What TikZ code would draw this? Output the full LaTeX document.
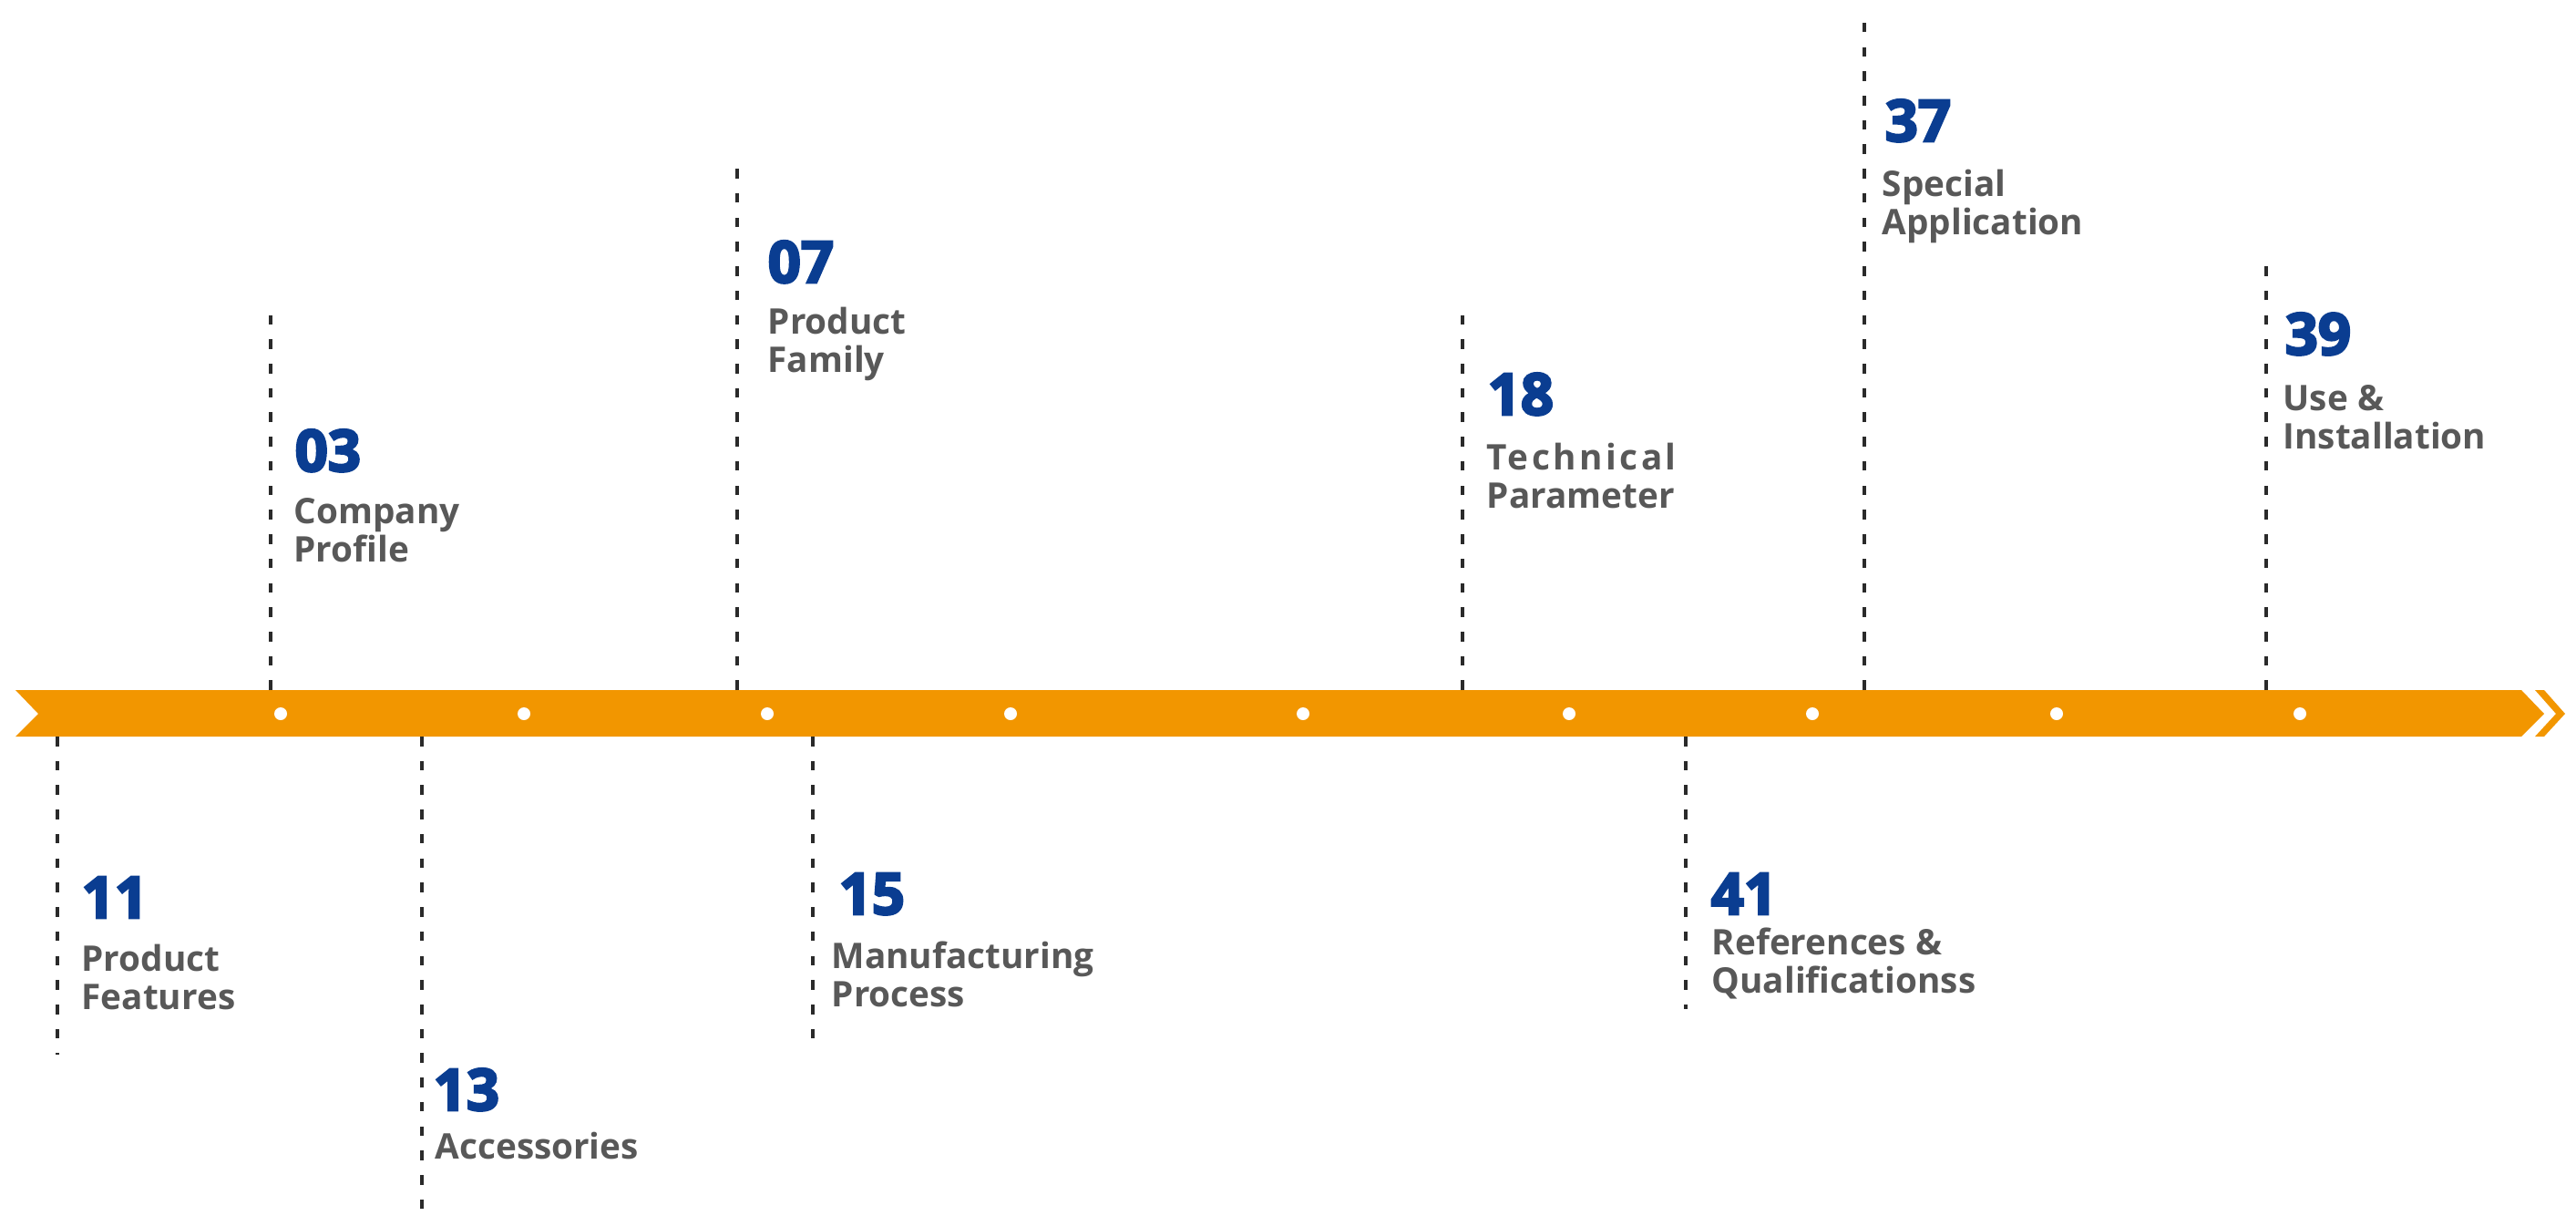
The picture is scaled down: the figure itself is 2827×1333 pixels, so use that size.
\documentclass[tikz,border=0pt]{standalone}
\usepackage{fontspec}
\setmainfont{Open Sans}
\newfontfamily\numfont{Open Sans}[BoldFeatures={FakeBold=4}]
\definecolor{bandorange}{HTML}{F29600}
\definecolor{numblue}{HTML}{0A3D91}
\definecolor{txtgrey}{HTML}{585858}
\definecolor{dashgrey}{HTML}{2A2A2A}
\tikzset{
  num/.style={inner sep=0pt, anchor=base west, text=numblue, font=\numfont\bfseries\fontsize{18}{20}\selectfont},
  lbl/.style={inner sep=0pt, anchor=base west, align=left, text=txtgrey, font=\bfseries\fontsize{11}{11.8}\selectfont},
  guide/.style={draw=dashgrey, line width=1pt, dash pattern=on 3pt off 4.6pt},
  dot/.style={circle, fill=white, inner sep=0pt, minimum size=0.14cm}
}
\begin{document}
\begin{tikzpicture}[x=0.01cm, y=-0.01cm]
\useasboundingbox (0,0) rectangle (2827,1333);
% band
\fill[bandorange] (17,757) -- (2767,757) -- (2792,783) -- (2767,808) -- (17,808) -- (42,783) -- cycle;
\fill[bandorange] (2782,757) -- (2792,757) -- (2815,783) -- (2792,808) -- (2782,808) -- (2805,783) -- cycle;
% dots
\foreach \x/\n in {308/1,575/2,842/3,1109/4,1430/5,1722/6,1989/7,2257/8,2524/9}
  \node[dot] (d\n) at (\x,783) {};
% guide end points
\coordinate (a03) at (297,757); \coordinate (b03) at (297,337);
\coordinate (a07) at (809,757); \coordinate (b07) at (809,183);
\coordinate (a18) at (1605,757); \coordinate (b18) at (1605,338);
\coordinate (a37) at (2046,757); \coordinate (b37) at (2046,10);
\coordinate (a39) at (2487,757); \coordinate (b39) at (2487,283);
\coordinate (a11) at (63,808); \coordinate (b11) at (63,1157);
\coordinate (a13) at (463,808); \coordinate (b13) at (463,1333);
\coordinate (a15) at (892,808); \coordinate (b15) at (892,1140);
\coordinate (a41) at (1850,808); \coordinate (b41) at (1850,1107);
\foreach \k in {03,07,18,37,39,11,13,15,41}
  \draw[guide] (a\k) -- (b\k);
% numbers and labels (above); label anchor = baseline of last line
\node[num] (n03) at (323,517) {03};
\node[lbl] (l03) at (322,616) {Company\\Profile};
\node[num] (n07) at (842,310) {07};
\node[lbl] (l07) at (842,408) {Product\\Family};
\node[num] (n18) at (1632,455) {18};
\node[lbl] (l18) at (1631,557) {{\addfontfeature{LetterSpace=9}Technical}\\Parameter};
\node[num] (n37) at (2068,155) {37};
\node[lbl] (l37) at (2065,257) {Special\\Application};
\node[num] (n39) at (2507,389) {39};
\node[lbl] (l39) at (2505,492) {Use \&\\Installation};
% numbers and labels (below)
\node[num] (n11) at (89,1007) {11};
\node[lbl] (l11) at (89,1107) {Product\\Features};
\node[num] (n13) at (475,1218) {13};
\node[lbl] (l13) at (477,1271) {Accessories};
\node[num] (n15) at (920,1003) {15};
\node[lbl] (l15) at (912,1104) {Manufacturing\\Process};
\node[num] (n41) at (1877,1003) {41};
\node[lbl] (l41) at (1878,1089) {References \&\\Qualificationss};
\end{tikzpicture}
\end{document}
